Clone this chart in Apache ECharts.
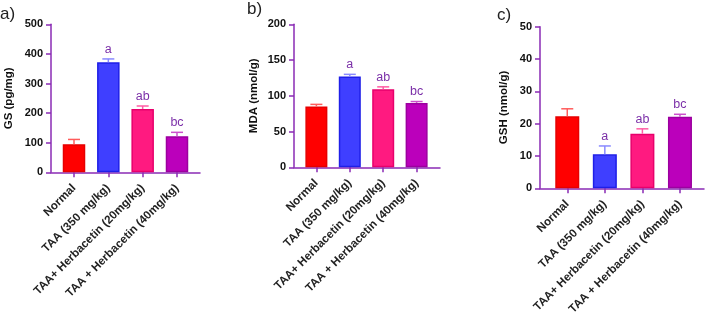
<!DOCTYPE html>
<html>
<head>
<meta charset="utf-8">
<script src="https://cdn.jsdelivr.net/npm/echarts@6/dist/echarts.min.js"></script>
<style>
  html, body { margin: 0; padding: 0; background: #fff; }
  #chart { width: 706px; height: 323px; }
</style>
</head>
<body>
<div id="chart"></div>
<script>
// groups on the x axis
var categories = ['Normal', 'TAA (350 mg/kg)', 'TAA+ Herbacetin (20mg/kg)', 'TAA + Herbacetin (40mg/kg)'];
var sigLetters = ['', 'a', 'ab', 'bc'];

// a) GS
var gsMean = [95, 372, 214, 122];
var gsErr = [16, 11, 10, 13];
// b) MDA
var mdaMean = [85, 127, 109, 90];
var mdaErr = [3, 3, 3.5, 2];
// c) GSH
var gshMean = [22.3, 10.5, 16.9, 22.1];
var gshErr = [2.3, 2.6, 1.5, 0.8];

var barColors = ['#ff0000', '#3f3fff', '#ff1a80', '#bb00bb'];
var barBorders = ['#e60000', '#1f1fe8', '#e8006c', '#9c009f'];
var errColors = ['#ff5c5c', '#8a8aff', '#ff5ca4', '#cc4fcc'];
var axisColor = '#8a2bb5';
var letterColor = '#7b2fa8';
var font = '"Liberation Sans", Arial, sans-serif';

var chart = echarts.init(document.getElementById('chart'));

var panels = [
    { name: 'GS (pg/mg)', mean: gsMean, err: gsErr, max: 500, step: 100, gap: 36, barW: 22.5,
      xmin: -0.67, xmax: 3.67, grid: { left: 51, top: 24.3, width: 149, height: 148 } },
    { name: 'MDA (nmol/g)', mean: mdaMean, err: mdaErr, max: 200, step: 50, gap: 34, barW: 22,
      xmin: -0.67, xmax: 3.70, grid: { left: 294, top: 24.3, width: 146, height: 143 } },
    { name: 'GSH (nmol/g)', mean: gshMean, err: gshErr, max: 50, step: 10, gap: 30, barW: 24,
      xmin: -0.726, xmax: 3.64, grid: { left: 540, top: 26.7, width: 164, height: 161.6 } }
];

function errRender(params, api) {
    var x = api.value(0), v = api.value(1), e = api.value(2);
    var base = api.coord([x, v]);
    var top = api.coord([x, v + e]);
    var col = errColors[params.dataIndex];
    var half = 6;
    var kids = [
        { type: 'line', shape: { x1: base[0], y1: base[1], x2: top[0], y2: top[1] },
          style: { stroke: col, lineWidth: 1.5 } },
        { type: 'line', shape: { x1: top[0] - half, y1: top[1], x2: top[0] + half, y2: top[1] },
          style: { stroke: col, lineWidth: 1.5 } }
    ];
    var letter = sigLetters[params.dataIndex];
    if (letter) {
        kids.push({ type: 'text', x: top[0], y: top[1] - 3,
            style: { text: letter, fill: letterColor, font: '12.5px ' + font, align: 'center', verticalAlign: 'bottom' } });
    }
    return { type: 'group', children: kids };
}

var grids = [], xAxes = [], yAxes = [], series = [];
panels.forEach(function (p, k) {
    grids.push(p.grid);
    xAxes.push({
        type: 'value', gridIndex: k, min: p.xmin, max: p.xmax,
        splitLine: { show: false },
        axisLine: { onZero: false, lineStyle: { color: axisColor, width: 1.5 } },
        axisTick: { length: 5, lineStyle: { color: axisColor, width: 1.5 }, customValues: [0, 1, 2, 3] },
        axisLabel: {
            customValues: [0, 1, 2, 3], rotate: 45, margin: 14,
            color: '#222', fontWeight: 'bold', fontSize: 11.6, fontFamily: font,
            formatter: function (v) { return categories[Math.round(v)]; }
        }
    });
    yAxes.push({
        type: 'value', gridIndex: k, min: 0, max: p.max, interval: p.step,
        name: p.name, nameLocation: 'middle', nameGap: p.gap,
        nameTextStyle: { color: '#111', fontWeight: 'bold', fontSize: 11.5, fontFamily: font },
        splitLine: { show: false },
        axisLine: { show: true, onZero: false, lineStyle: { color: axisColor, width: 1.5 } },
        axisTick: { show: true, length: 5, lineStyle: { color: axisColor, width: 1.5 } },
        axisLabel: { margin: 8, color: '#111', fontWeight: 'bold', fontSize: 11, fontFamily: font }
    });
    series.push({
        type: 'bar', xAxisIndex: k, yAxisIndex: k, barWidth: p.barW,
        data: p.mean.map(function (v, i) {
            return { value: [i, v], itemStyle: { color: barColors[i], borderColor: barBorders[i], borderWidth: 1.5 } };
        })
    });
    series.push({
        type: 'custom', xAxisIndex: k, yAxisIndex: k, z: 5,
        renderItem: errRender,
        data: p.mean.map(function (v, i) { return [i, v, p.err[i]]; })
    });
});

chart.setOption({
    animation: false,
    grid: grids,
    xAxis: xAxes,
    yAxis: yAxes,
    series: series,
    graphic: [
        { type: 'text', left: 0, top: 6, style: { text: 'a)', font: '17px ' + font, fill: '#222' } },
        { type: 'text', left: 247, top: 1, style: { text: 'b)', font: '17px ' + font, fill: '#222' } },
        { type: 'text', left: 497, top: 7, style: { text: 'c)', font: '17px ' + font, fill: '#222' } }
    ]
});
</script>
</body>
</html>
